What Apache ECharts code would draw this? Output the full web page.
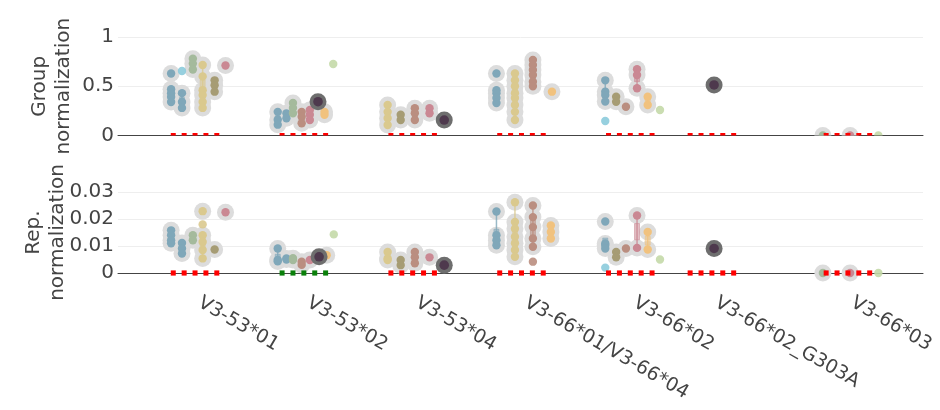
<!DOCTYPE html>
<html>
<head>
<meta charset="utf-8">
<script src="https://cdn.jsdelivr.net/npm/echarts@6/dist/echarts.min.js"></script>
<style>
  html, body { margin: 0; padding: 0; background: #fff; }
  #chart { width: 940px; height: 410px; }
</style>
</head>
<body>
<div id="chart"></div>
<script>
// ---- categories and their positions on the x axis ----
const categories = ['V3-53*01', 'V3-53*02', 'V3-53*04', 'V3-66*01/V3-66*04', 'V3-66*02', 'V3-66*02_G303A', 'V3-66*03'];
const categoryX = [0, 1, 2, 3, 4, 4.75, 6];

// y tick values of both panels
const groupTicks = [0, 0.5, 1];
const repTicks = [0, 0.01, 0.02, 0.03];

// x offsets of the five baseline markers around each category
const baselineSlots = [-0.2, -0.1, 0, 0.1, 0.2];
// categories whose replicate-level baseline is flagged green
const repBaselineGreen = [1];

// ---- Group normalization: [category index, column offset, values] ----
const groupTeal = [
  [0, -0.22, [0.63, 0.47, 0.43, 0.39, 0.34]],
  [0, -0.12, [0.43, 0.34, 0.28]],
  [1, -0.24, [0.24, 0.16, 0.11]],
  [1, -0.16, [0.225, 0.175]],
  [3, -0.23, [0.63, 0.46, 0.43, 0.38, 0.33]],
  [4, -0.23, [0.56, 0.445, 0.41, 0.345]]
];
const groupSky = [[0, -0.12, [0.655]], [4, -0.23, [0.147]]];
const groupSage = [[0, -0.02, [0.78, 0.73, 0.67]], [1, -0.10, [0.33, 0.28, 0.225]], [6, -0.23, [0]]];
const groupKhaki = [
  [0, 0.07, [0.716, 0.6, 0.46, 0.41, 0.34, 0.28]],
  [2, -0.23, [0.31, 0.24, 0.175, 0.107]],
  [3, -0.06, [0.63, 0.56, 0.5, 0.43, 0.38, 0.31, 0.24, 0.157]]
];
const groupOlive = [[0, 0.18, [0.56, 0.51, 0.445]], [2, -0.11, [0.21, 0.157]], [4, -0.13, [0.394, 0.343]]];
const groupRosy = [
  [1, -0.02, [0.24, 0.19, 0.124]],
  [2, 0.02, [0.276, 0.225, 0.157]],
  [3, 0.105, [0.766, 0.716, 0.665, 0.614, 0.546, 0.5]],
  [4, -0.04, [0.292]]
];
const groupPink = [
  [0, 0.28, [0.71]],
  [1, 0.055, [0.26, 0.21, 0.157]],
  [2, 0.155, [0.276, 0.225]],
  [4, 0.062, [0.672, 0.614, 0.479]],
  [6, 0.02, [0]]
];
const groupPeach = [[1, 0.19, [0.24, 0.21]], [3, 0.28, [0.445]], [4, 0.16, [0.394, 0.31]]];
const groupLime = [[1, 0.27, [0.726]], [4, 0.273, [0.259]], [6, 0.28, [0]]];
const groupFocus = [[1, 0.13, [0.343]], [2, 0.29, [0.157]], [5, 0.02, [0.513]]];

// ---- Rep. normalization: [category index, column offset, values] ----
const repTeal = [
  [0, -0.22, [0.0158, 0.014, 0.0121, 0.011]],
  [0, -0.12, [0.0111, 0.0091, 0.0072]],
  [1, -0.24, [0.0091, 0.0048, 0.0043]],
  [1, -0.16, [0.0054, 0.005]],
  [3, -0.23, [0.0228, 0.014, 0.0121, 0.0103]],
  [4, -0.23, [0.0191, 0.0109, 0.0103, 0.0091]]
];
const repSky = [[4, -0.23, [0.002]]];
const repSage = [[0, -0.02, [0.014, 0.0121]], [1, -0.10, [0.0055, 0.0048]], [6, -0.23, [0]]];
const repKhaki = [
  [0, 0.07, [0.0229, 0.014, 0.0115, 0.0085, 0.0054]],
  [2, -0.23, [0.0078, 0.0054, 0.0048]],
  [3, -0.06, [0.0262, 0.0189, 0.0164, 0.0134, 0.011, 0.0085, 0.006]]
];
const repKhakiLoose = [[0, 0.07, [0.018]]];
const repOlive = [[0, 0.18, [0.0087]], [2, -0.11, [0.0048, 0.0029]], [4, -0.13, [0.0078, 0.0058]]];
const repRosy = [
  [1, -0.02, [0.0042, 0.003]],
  [2, 0.02, [0.0078, 0.0058, 0.0036]],
  [3, 0.105, [0.025, 0.0207, 0.017, 0.0128, 0.0097]],
  [4, -0.04, [0.0091]]
];
const repRosyLoose = [[3, 0.105, [0.0042]]];
const repPink = [
  [0, 0.28, [0.0225]],
  [1, 0.055, [0.0048]],
  [2, 0.155, [0.0058]],
  [4, 0.062, [0.0213, 0.0093]],
  [6, 0.02, [0]]
];
const repPeach = [[1, 0.21, [0.0066]], [3, 0.27, [0.0176, 0.0152, 0.0128]], [4, 0.16, [0.0152, 0.0087]]];
const repLime = [[1, 0.275, [0.0143]], [4, 0.273, [0.005]], [6, 0.28, [0]]];
const repFocus = [[1, 0.14, [0.006]], [2, 0.29, [0.0029]], [5, 0.02, [0.0091]]];

// ---- styling ----
const FONT = 'DejaVu Sans';
const TEXT = '#444';
const palette = {
  teal: '#7fa7b9', sky: '#8ccbdc', sage: '#a4ba9c', khaki: '#dac98e', olive: '#a69c74',
  rosy: '#ba8e80', pink: '#ca8893', peach: '#f1c27e', lime: '#c4d9a8'
};
const colourList = Object.values(palette);
const colourIndex = name => Object.keys(palette).indexOf(name);

// Quartiles (linear interpolation) and Tukey whiskers of one column
function boxStats(values) {
  const s = values.slice().sort((a, b) => a - b);
  const q = p => {
    const pos = (s.length - 1) * p, lo = Math.floor(pos), hi = Math.ceil(pos);
    return s[lo] + (s[hi] - s[lo]) * (pos - lo);
  };
  const q1 = q(0.25), q3 = q(0.75), iqr = q3 - q1;
  const low = s.find(v => v >= q1 - 1.5 * iqr);
  const high = s.slice().reverse().find(v => v <= q3 + 1.5 * iqr);
  return [low, q1, q3, high];
}

function buildPanel(sets, focus, greenCats, axisIdx, clip) {
  const halos = [], boxes = [], dots = [], focusPts = [], base = [];
  sets.forEach(set => {
    const ci = colourIndex(set.colour);
    set.cols.forEach(([c, off, vals]) => {
      const x = categoryX[c] + off;
      vals.forEach(v => {
        dots.push([x, v, ci, set.ring ? 1 : 0]);
        if (set.ring) halos.push([x, v]);
      });
      if (set.ring && vals.length > 1) boxes.push([x, ...boxStats(vals), ci]);
    });
  });
  focus.forEach(([c, off, vals]) => vals.forEach(v => focusPts.push([categoryX[c] + off, v])));
  categories.forEach((_, c) => baselineSlots.forEach(s =>
    base.push([categoryX[c] + s, 0, greenCats.includes(c) ? 1 : 0])));

  const common = { type: 'custom', xAxisIndex: axisIdx, yAxisIndex: axisIdx, clip: clip, silent: true, animation: false };
  return [
    Object.assign({}, common, {
      z: 2, data: halos,
      renderItem: (p, api) => {
        const pt = api.coord([api.value(0), api.value(1)]);
        return { type: 'circle', shape: { cx: pt[0], cy: pt[1], r: 8.5 }, style: { fill: '#dcdcdc' } };
      }
    }),
    Object.assign({}, common, {
      z: 3, data: boxes,
      renderItem: (p, api) => {
        const x = api.value(0);
        const lo = api.coord([x, api.value(1)]), q1 = api.coord([x, api.value(2)]);
        const q3 = api.coord([x, api.value(3)]), hi = api.coord([x, api.value(4)]);
        const col = colourList[api.value(5)];
        return {
          type: 'group', children: [
            { type: 'line', shape: { x1: lo[0], y1: lo[1], x2: hi[0], y2: hi[1] }, style: { stroke: col, lineWidth: 1.5, opacity: 0.8 } },
            { type: 'rect', shape: { x: q3[0] - 2.5, y: q3[1], width: 5, height: Math.max(q1[1] - q3[1], 1) },
              style: { fill: col, opacity: 0.55, stroke: col, lineWidth: 1 } }
          ]
        };
      }
    }),
    Object.assign({}, common, {
      z: 4, data: dots,
      renderItem: (p, api) => {
        const pt = api.coord([api.value(0), api.value(1)]);
        const col = colourList[api.value(2)];
        const ringed = api.value(3) === 1;
        return {
          type: 'circle', shape: { cx: pt[0], cy: pt[1], r: 4.2 },
          style: ringed ? { fill: col } : { fill: col, opacity: 0.9 }
        };
      }
    }),
    Object.assign({}, common, {
      z: 5, data: focusPts,
      renderItem: (p, api) => {
        const pt = api.coord([api.value(0), api.value(1)]);
        return {
          type: 'group', children: [
            { type: 'circle', shape: { cx: pt[0], cy: pt[1], r: 8.5 }, style: { fill: '#6e6e6e' } },
            { type: 'circle', shape: { cx: pt[0], cy: pt[1], r: 4.8 }, style: { fill: '#4e394d' } }
          ]
        };
      }
    }),
    Object.assign({}, common, {
      z: 6, data: base,
      renderItem: (p, api) => {
        const pt = api.coord([api.value(0), api.value(1)]);
        return {
          type: 'rect', shape: { x: pt[0] - 2.5, y: pt[1] - 2.6, width: 5, height: 5.2 },
          style: { fill: api.value(2) === 1 ? '#0a800a' : '#ff0000' }
        };
      }
    })
  ];
}

const groupSets = [
  { cols: groupTeal, colour: 'teal', ring: true },
  { cols: groupSky, colour: 'sky', ring: false },
  { cols: groupSage, colour: 'sage', ring: true },
  { cols: groupKhaki, colour: 'khaki', ring: true },
  { cols: groupOlive, colour: 'olive', ring: true },
  { cols: groupRosy, colour: 'rosy', ring: true },
  { cols: groupPink, colour: 'pink', ring: true },
  { cols: groupPeach, colour: 'peach', ring: true },
  { cols: groupLime, colour: 'lime', ring: false }
];
const repSets = [
  { cols: repTeal, colour: 'teal', ring: true },
  { cols: repSky, colour: 'sky', ring: false },
  { cols: repSage, colour: 'sage', ring: true },
  { cols: repKhaki, colour: 'khaki', ring: true },
  { cols: repKhakiLoose, colour: 'khaki', ring: false },
  { cols: repOlive, colour: 'olive', ring: true },
  { cols: repRosy, colour: 'rosy', ring: true },
  { cols: repRosyLoose, colour: 'rosy', ring: false },
  { cols: repPink, colour: 'pink', ring: true },
  { cols: repPeach, colour: 'peach', ring: true },
  { cols: repLime, colour: 'lime', ring: false }
];

const X_MIN = -0.708, X_MAX = 6.69;
const labelStyle = { fontFamily: FONT, fontSize: 20, color: TEXT };

function yAxis(gridIndex, ticks, name, gap) {
  return {
    type: 'value', gridIndex: gridIndex,
    min: ticks[0], max: ticks[ticks.length - 1], interval: ticks[1] - ticks[0],
    name: name, nameLocation: 'middle', nameGap: gap, nameRotate: 90, nameMoveOverlap: false,
    nameTextStyle: Object.assign({ lineHeight: 24 }, labelStyle),
    axisLine: { show: false }, axisTick: { show: false },
    axisLabel: Object.assign({ margin: 4 }, labelStyle),
    splitLine: { lineStyle: { color: '#eeeeee', width: 1 } }
  };
}

const chart = echarts.init(document.getElementById('chart'), null, { renderer: 'canvas' });
chart.setOption({
  backgroundColor: '#fff',
  animation: false,
  grid: [
    { left: 118, right: 17, top: 37, height: 98.5 },
    { left: 118, right: 17, top: 192, height: 81 }
  ],
  xAxis: [
    {
      type: 'value', gridIndex: 0, min: X_MIN, max: X_MAX,
      axisLine: { lineStyle: { color: '#444', width: 1 } },
      axisTick: { show: false }, axisLabel: { show: false }, splitLine: { show: false }
    },
    {
      type: 'value', gridIndex: 1, min: X_MIN, max: X_MAX,
      axisLine: { lineStyle: { color: '#444', width: 1 } },
      axisTick: { show: false }, splitLine: { show: false },
      axisLabel: Object.assign({}, labelStyle, {
        fontSize: 19,
        customValues: categoryX, rotate: -30, margin: 26, padding: [0, 0, 0, 5],
        formatter: v => categories[categoryX.indexOf(v)] || ''
      })
    }
  ],
  yAxis: [
    yAxis(0, groupTicks, 'Group\nnormalization', 42),
    yAxis(1, repTicks, 'Rep.\nnormalization', 48)
  ],
  series: [
    ...buildPanel(groupSets, groupFocus, [], 0, true),
    ...buildPanel(repSets, repFocus, repBaselineGreen, 1, false)
  ]
});
</script>
</body>
</html>
